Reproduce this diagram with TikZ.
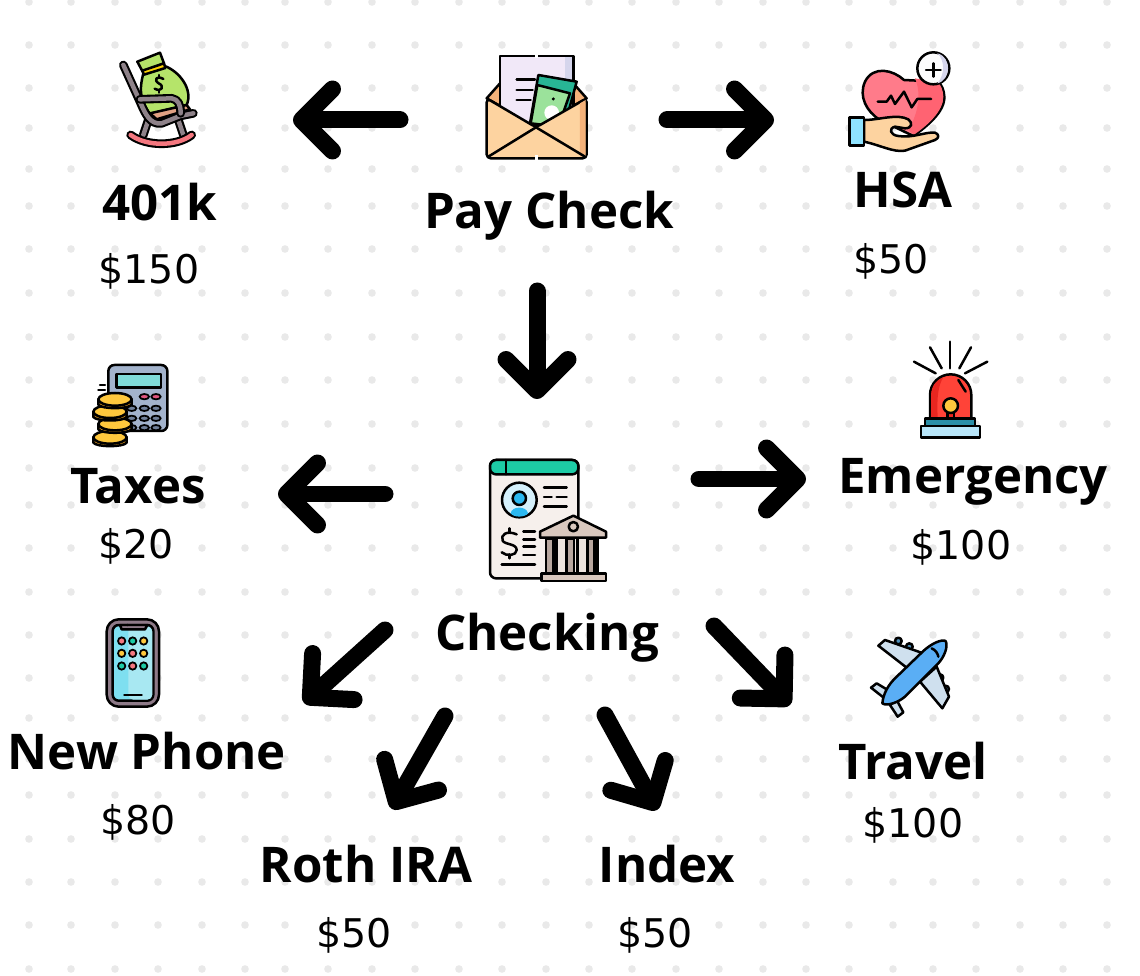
\documentclass[tikz,border=0pt]{standalone}
\usepackage{fontspec}
\usetikzlibrary{arrows.meta}
\setmainfont{Open Sans}
\newfontfamily\valuefont{DejaVu Sans}

\definecolor{griddot}{HTML}{E9E9E9}
\definecolor{bagcol}{HTML}{B5E46A}
\definecolor{chaircol}{HTML}{8E8289}
\definecolor{rockcol}{HTML}{F4777F}
\definecolor{clay}{HTML}{E0A183}
\definecolor{paper}{HTML}{F1E8F8}
\definecolor{papershade}{HTML}{D5D5EC}
\definecolor{flap}{HTML}{F5B27A}
\definecolor{skin}{HTML}{FDD3A0}
\definecolor{notedark}{HTML}{28B595}
\definecolor{notelight}{HTML}{9BE29B}
\definecolor{heart}{HTML}{FF7B8A}
\definecolor{heartdark}{HTML}{FF6372}
\definecolor{cuff}{HTML}{8FE3FF}
\definecolor{steel}{HTML}{A3B3CC}
\definecolor{lcd}{HTML}{7FDBD8}
\definecolor{gold}{HTML}{FFC83D}
\definecolor{golddark}{HTML}{F5A623}
\definecolor{keypink}{HTML}{E0567F}
\definecolor{keygrey}{HTML}{6F7F99}
\definecolor{docpaper}{HTML}{F6F0EC}
\definecolor{doctop}{HTML}{1DCBA5}
\definecolor{sky}{HTML}{2BB8F0}
\definecolor{stone}{HTML}{D9C8BE}
\definecolor{stonedark}{HTML}{B8A79F}
\definecolor{sirenred}{HTML}{FF4338}
\definecolor{sirendark}{HTML}{E82620}
\definecolor{teal}{HTML}{2B8FA8}
\definecolor{pale}{HTML}{B8E6FA}
\definecolor{phonecol}{HTML}{8E7A88}
\definecolor{screen}{HTML}{7EDFF0}
\definecolor{screenlight}{HTML}{A8E8F2}
\definecolor{planeblue}{HTML}{5AAEF5}
\definecolor{wingcol}{HTML}{CFE0EE}
\definecolor{enginecol}{HTML}{4F8FB8}

\begin{document}
\begin{tikzpicture}[x=0.02cm,y=-0.02cm,
    title/.style ={inner sep=0pt, font=\fontsize{28}{28}\selectfont\bfseries},
    amount/.style ={inner sep=0pt, font=\fontsize{22.5}{22.5}\selectfont\valuefont},
    flow/.style ={line width=0.34cm, line cap=round, line join=round,
      -{Straight Barb[length=0.62cm, width=1.24cm, round]}},
    griddotstyle/.style ={griddot, radius=3.8},
    ink/.style ={draw=black, line width=0.05cm, line join=round, line cap=round},
    fineink/.style ={draw=black, line width=0.035cm},
    tube/.style ={line width=0.042cm, double=#1, double distance=0.09cm, line cap=round, line join=round}]
   \useasboundingbox (0,0) rectangle (1140,976);
   \fill[white] (0,0) rectangle (1140,976);

   % dotted paper
   \foreach \gx in {29,71,115,158,202,245,285,328,372,415,459,502,546,589,632,676,719,763,806,849,893,933,976,1020,1063,1107}
     \foreach \gy in {2,45,88,128,169,206,249,293,337,380,424,468,505,548,592,635,678,718,759,795,839,882,925,969}
       \fill[griddotstyle] (\gx,\gy) circle;

   % labels
   \node[title] (paycheck) at (549,216) {Pay Check};
   \node[title] (retire) at (160,202) {401k};
   \node[amount] (retireval) at (149,271) {\$150};
   \node[title] (hsa) at (903,190) {HSA};
   \node[amount] (hsaval) at (891,261) {\$50};
   \node[title] (taxes) at (138,486) {Taxes};
   \node[amount] (taxesval) at (136,546) {\$20};
   \node[title] (emergency) at (973,482) {Emergency};
   \node[amount] (emergencyval) at (961,547) {\$100};
   \node[title] (checking) at (547,638) {Checking};
   \node[title] (phone) at (147,751) {New Phone};
   \node[amount] (phoneval) at (138,822) {\$80};
   \node[title] (roth) at (366,864) {Roth IRA};
   \node[amount] (rothval) at (354,935) {\$50};
   \node[title] (index) at (667,864) {Index};
   \node[amount] (indexval) at (655,935) {\$50};
   \node[title] (travel) at (913,761) {Travel};
   \node[amount] (travelval) at (913,825) {\$100};

   % arrow ends
   \coordinate (payleft) at (400,120);
   \coordinate (retiretip) at (293,120);
   \coordinate (payright) at (667,120);
   \coordinate (hsatip) at (774,120);
   \coordinate (paydown) at (537,291);
   \coordinate (checktop) at (537,399);
   \coordinate (checkleft) at (385,494);
   \coordinate (taxestip) at (278,494);
   \coordinate (checkright) at (699,479);
   \coordinate (emergencytip) at (806,479);
   \coordinate (checkphone) at (385,630);
   \coordinate (phonetip) at (304,703);
   \coordinate (checkroth) at (445,716);
   \coordinate (rothtip) at (392,809);
   \coordinate (checkindex) at (605,715);
   \coordinate (indextip) at (657,810);
   \coordinate (checktravel) at (714,626);
   \coordinate (traveltip) at (790,705);

   \draw[flow] (payleft) -- (retiretip);
   \draw[flow] (payright) -- (hsatip);
   \draw[flow] (paydown) -- (checktop);
   \draw[flow] (checkleft) -- (taxestip);
   \draw[flow] (checkright) -- (emergencytip);
   \draw[flow] (checkphone) -- (phonetip);
   \draw[flow] (checkroth) -- (rothtip);
   \draw[flow] (checkindex) -- (indextip);
   \draw[flow] (checktravel) -- (traveltip);

   % rocking chair with money bag
   \begin{scope}[shift={(90,30)},scale=1/3]
     \draw[tube=chaircol] (175,270) -- (160,315);
     \draw[tube=chaircol] (265,270) -- (280,315);
     \draw[tube=rockcol] (122,315) .. controls (170,350) and (260,350) .. (305,315);
     \draw[ink,fill=bagcol] (142,95) -- (210,68) -- (222,100) -- (158,125) -- cycle;
     \draw[ink,fill=bagcol] (160,130) .. controls (150,170) and (145,205) .. (180,252) -- (290,225) .. controls (310,180) and (270,125) .. (224,108) -- cycle;
     \draw[ink,fill=yellow!70!orange] (157,122) -- (222,100) -- (226,114) -- (162,134) -- cycle;
     \draw[ink,fill=clay] (180,250) -- (290,225) -- (300,238) -- (200,268) -- cycle;
     \draw[ink] (220,147) .. controls (200,135) and (190,150) .. (206,160) .. controls (225,168) and (215,188) .. (194,176);
     \draw[ink] (207,135) -- (207,142);
     \draw[ink] (207,180) -- (207,188);
     \draw[tube=chaircol] (100,105) -- (150,215) .. controls (165,250) and (180,285) .. (215,280) -- (270,258) -- (310,250);
     \draw[tube=chaircol] (150,208) -- (245,205) .. controls (265,208) and (272,225) .. (272,250);
   \end{scope}

   % envelope
   \begin{scope}[shift={(90,30)},scale=1/3]
     \draw[ink,fill=flap] (1190,205) -- (1230,160) -- (1450,160) -- (1490,205) -- (1340,290) -- cycle;
     \draw[ink,fill=paper] (1230,290) -- (1230,78) -- (1450,78) -- (1450,290) -- cycle;
     \fill[papershade] (1425,82) rectangle (1447,150);
     \draw[white,line width=0.06cm] (1340,70) -- (1340,85);
     \draw[ink] (1280,148) -- (1335,148);
     \draw[ink] (1280,180) -- (1328,180);
     \draw[ink] (1280,210) -- (1322,210);
     \draw[ink,fill=notedark] (1345,135) -- (1460,155) -- (1430,265) -- (1320,280) -- cycle;
     \draw[ink,fill=notelight] (1342,165) -- (1440,190) -- (1405,290) -- (1322,280) -- cycle;
     \fill[white] (1385,248) circle (22);
     \fill[black] (1390,207) circle (5);
     \draw[ink,fill=skin,rounded corners=0.08cm] (1190,205) -- (1338,292) -- (1490,205) -- (1490,385) -- (1190,385) -- cycle;
     \fill[flap] (1470,220) -- (1487,210) -- (1487,380) -- (1470,380) -- cycle;
     \draw[ink] (1195,380) -- (1338,292) -- (1485,380);
     \draw[white,line width=0.06cm] (1340,375) -- (1340,392);
   \end{scope}

   % heart in hand
   \begin{scope}[shift={(830,30)},scale=1/3]
     \draw[ink,fill=heart] (222,150) .. controls (190,120) and (130,105) .. (105,155) .. controls (85,200) and (110,245) .. (150,270) -- (250,318) .. controls (290,290) and (345,245) .. (343,200) .. controls (342,180) and (335,165) .. (325,155) -- cycle;
     \fill[heartdark] (255,145) .. controls (275,190) and (265,250) .. (235,300) -- (252,314) .. controls (290,288) and (340,245) .. (340,200) .. controls (339,180) and (333,165) .. (323,157) -- cycle;
     \draw[ink,fill=white!92!papershade] (310,115) circle (48);
     \fill[papershade] (322,70) .. controls (345,90) and (345,135) .. (322,160) .. controls (365,150) and (365,80) .. (322,70) -- cycle;
     \draw[ink] (288,120) -- (332,120);
     \draw[ink] (310,100) -- (310,140);
     \draw[ink] (143,215) -- (170,215) -- (183,197) -- (195,222) -- (222,185) -- (245,232) -- (262,207) -- (303,207);
     \draw[ink,fill=skin] (102,270) .. controls (150,270) and (200,250) .. (235,268) .. controls (250,280) and (245,295) .. (225,295) -- (195,290) .. controls (175,295) and (180,315) .. (205,318) .. controls (250,325) and (285,305) .. (315,308) .. controls (328,312) and (328,325) .. (315,330) -- (225,362) .. controls (190,368) and (150,345) .. (102,335) -- cycle;
     \draw[ink,fill=cuff] (58,262) rectangle (102,347);
   \end{scope}

   % calculator with coins
   \begin{scope}[shift={(80,350)},scale=1/3]
     \draw[ink,fill=steel,rounded corners=0.12cm] (85,45) rectangle (262,243);
     \draw[ink,fill=lcd] (110,72) rectangle (243,112);
     \foreach \bx in {193,228}
       \draw[fineink,fill=keypink] (\bx,140) ellipse (14 and 8);
     \foreach \bx in {155,193,228}
       \foreach \by in {175,205,233}
         \draw[fineink,fill=keygrey] (\bx,\by) ellipse (14 and 8);
     \draw[ink] (60,105) -- (75,105);
     \draw[ink] (55,120) -- (75,120);
     \foreach \cx/\cy in {90/262,105/222,90/185,105/148} {
       \draw[ink,fill=golddark] (\cx-50,\cy) -- (\cx-50,\cy+16) .. controls (\cx-40,\cy+30) and (\cx+40,\cy+30) .. (\cx+50,\cy+16) -- (\cx+50,\cy) -- cycle;
       \draw[ink,fill=gold] (\cx,\cy) ellipse (50 and 19);
     }
   \end{scope}

   % bank statement
   \begin{scope}[shift={(470,445)},scale=1/3]
     \draw[ink,fill=docpaper,rounded corners=0.12cm] (60,45) rectangle (325,400);
     \draw[ink,fill=doctop,rounded corners=0.12cm] (60,88) -- (60,45) -- (325,45) -- (325,88) -- cycle;
     \draw[ink] (108,45) -- (108,88);
     \draw[ink,fill=sky!20] (148,165) circle (52);
     \fill[sky] (122,205) .. controls (125,182) and (170,182) .. (174,205) .. controls (165,218) and (130,218) .. (122,205) -- cycle;
     \draw[ink,fill=sky] (148,160) circle (20);
     \draw[ink] (222,128) -- (290,128);
     \draw[ink] (222,156) -- (245,156);
     \draw[ink] (260,156) -- (290,156);
     \draw[ink] (222,185) -- (290,185);
     \draw[ink] (140,268) .. controls (110,255) and (90,270) .. (98,287) .. controls (105,300) and (140,295) .. (140,315) .. controls (140,332) and (110,335) .. (95,322);
     \draw[ink] (118,250) -- (118,262);
     \draw[ink] (118,328) -- (118,340);
     \foreach \ly in {260,283,305,330}
       \draw[ink] (160,\ly) -- (195,\ly);
     \draw[ink] (95,358) -- (195,358);
     \fill[docpaper!70!stone] (228,282) rectangle (388,385);
     \foreach \cx in {228,290,352}
       \draw[ink,fill=stonedark] (\cx,282) rectangle (\cx+22,385);
     \foreach \cx in {260,322,382}
       \draw[ink] (\cx,282) -- (\cx,385);
     \draw[ink,fill=stone] (210,278) -- (210,260) -- (310,212) -- (408,260) -- (408,278) -- cycle;
     \draw[ink,fill=stone] (310,245) circle (14);
     \draw[ink,fill=stone] (215,385) rectangle (408,408);
   \end{scope}

   % siren
   \begin{scope}[shift={(895,330)},scale=1/3]
     \draw[ink] (165,35) -- (165,115);
     \draw[ink] (105,52) -- (140,115);
     \draw[ink] (228,52) -- (193,115);
     \draw[ink] (57,95) -- (122,130);
     \draw[ink] (277,95) -- (210,130);
     \draw[ink,fill=sirenred] (105,265) -- (105,195) arc (180:0:62 and -62) -- (229,265) -- cycle;
     \fill[sirendark] (108,262) -- (108,195) .. controls (110,165) and (125,150) .. (145,142) .. controls (130,165) and (125,200) .. (128,262) -- cycle;
     \draw[ink] (190,150) -- (212,185);
     \draw[ink,fill=sirendark] (157,245) rectangle (177,265);
     \draw[ink,fill=gold] (167,227) circle (22);
     \draw[ink,fill=teal] (90,265) rectangle (240,288);
     \draw[ink,fill=pale] (78,288) rectangle (255,323);
   \end{scope}

   % phone
   \begin{scope}[shift={(90,610)},scale=1/3]
     \draw[ink,fill=phonecol,rounded corners=0.24cm] (50,28) rectangle (207,290);
     \draw[ink,fill=screen,rounded corners=0.12cm] (68,45) rectangle (190,272);
     \fill[screenlight,rounded corners=0.1cm] (115,50) rectangle (187,269);
     \draw[ink,fill=phonecol] (90,45) -- (95,58) -- (165,58) -- (172,45) -- cycle;
     \fill[black] (112,45) circle (4);
     \draw[ink] (128,45) -- (150,45);
     \foreach \dx/\dy/\dc in {95/93/rockcol,128/93/doctop,161/93/gold,95/130/gold,128/130/rockcol,161/130/gold,95/168/doctop,128/168/rockcol,161/168/doctop}
       \draw[fineink,fill=\dc] (\dx,\dy) circle (11);
     \draw[ink] (103,255) -- (155,255);
   \end{scope}

   % plane
   \begin{scope}[shift={(855,625)},scale=1/3]
     \foreach \ex/\ey in {130/48,163/65,255/158,272/192}
       \draw[ink,fill=enginecol] (\ex,\ey) circle (10);
     \draw[ink,fill=wingcol] (70,62) -- (90,45) -- (205,85) -- (155,128) -- cycle;
     \draw[ink,fill=wingcol] (195,170) -- (245,125) -- (282,215) -- (262,250) -- cycle;
     \draw[ink,fill=wingcol] (48,188) -- (65,175) -- (115,205) -- (95,225) -- cycle;
     \draw[ink,fill=wingcol] (105,240) -- (125,225) -- (145,262) -- (128,275) -- cycle;
     \draw[ink,fill=planeblue] (82,235) .. controls (85,205) and (100,180) .. (120,160) -- (205,78) .. controls (230,55) and (260,42) .. (272,48) .. controls (280,65) and (268,95) .. (250,115) -- (150,215) .. controls (130,232) and (95,245) .. (82,235) -- cycle;
     \draw[ink] (230,70) .. controls (242,75) and (248,85) .. (250,95);
   \end{scope}
 \end{tikzpicture}
\end{document}
